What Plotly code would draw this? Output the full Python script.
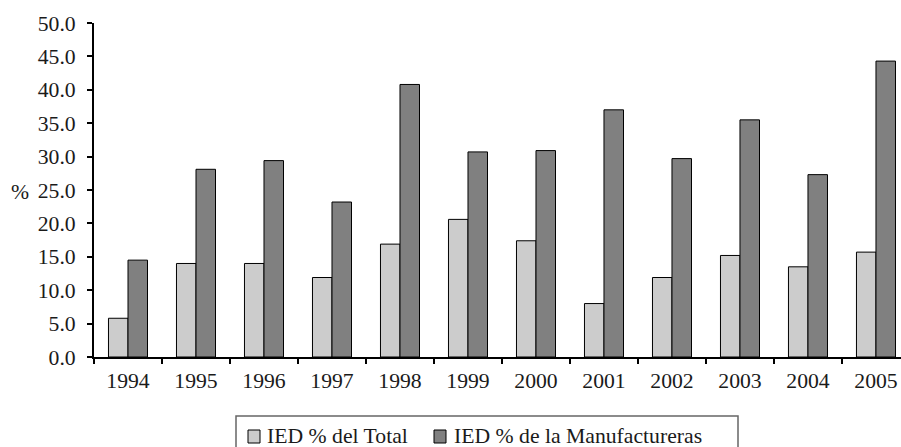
import plotly.graph_objects as go

years = ["1994", "1995", "1996", "1997", "1998", "1999", "2000", "2001", "2002", "2003", "2004", "2005"]
ied_total = [5.8, 14.0, 14.0, 11.9, 16.9, 20.6, 17.4, 8.0, 11.9, 15.2, 13.5, 15.7]
ied_manuf = [14.5, 28.1, 29.4, 23.2, 40.8, 30.7, 30.9, 37.0, 29.7, 35.5, 27.3, 44.3]
series_names = ["IED % del Total", "IED % de la Manufactureras"]
series_colors = ["#cccccc", "#808080"]
y_ticks = [0, 5, 10, 15, 20, 25, 30, 35, 40, 45, 50]

FONT = "Liberation Serif, Times New Roman, serif"
TXT = "#1a1a1a"
FS = 21.7

W, H = 901, 447
L, R, T, B = 94, 0, 23, 90
PW, PH = W - L - R, H - T - B


def px_x(p):
    return (p - L) / PW


def px_y(p):
    return (H - B - p) / PH


fig = go.Figure()
for vals, name, col in zip([ied_total, ied_manuf], series_names, series_colors):
    fig.add_trace(go.Bar(x=years, y=vals, name=name,
                         marker=dict(color=col, line=dict(color="#000000", width=1))))

# legend drawn as a framed box with swatches
shapes = [dict(type="rect", xref="paper", yref="paper",
               x0=px_x(236), x1=px_x(738), y0=px_y(455), y1=px_y(416),
               line=dict(color="#666666", width=1.5), fillcolor="rgba(0,0,0,0)")]
annotations = [dict(text="%", xref="paper", yref="paper", x=px_x(20), y=px_y(192),
                    xanchor="center", yanchor="middle", showarrow=False,
                    font=dict(size=FS, color=TXT))]
legend_icon_x = [248, 434]
legend_text_x = [265, 452]
for ix, tx, name, col in zip(legend_icon_x, legend_text_x, series_names, series_colors):
    shapes.append(dict(type="rect", xref="paper", yref="paper",
                       x0=px_x(ix), x1=px_x(ix + 12), y0=px_y(443), y1=px_y(430),
                       line=dict(color="#000000", width=1), fillcolor=col))
    annotations.append(dict(text=name, xref="paper", yref="paper", x=px_x(tx), y=px_y(436),
                            xanchor="left", yanchor="middle", showarrow=False,
                            font=dict(size=FS, color=TXT)))

fig.update_layout(
    width=W, height=H,
    margin=dict(l=L, r=R, t=T, b=B, autoexpand=False),
    paper_bgcolor="white", plot_bgcolor="white",
    barmode="group", bargap=0.426, bargroupgap=0,
    font=dict(family=FONT, size=FS, color=TXT),
    showlegend=False,
    xaxis=dict(type="category", range=[-0.5, 11.368], showline=True, linecolor="#000000",
               linewidth=2, ticks="outside", tickson="boundaries", ticklen=5,
               tickcolor="#000000", tickwidth=2, showgrid=False, zeroline=False,
               automargin=False, ticklabelstandoff=3,
               tickfont=dict(size=FS, color=TXT)),
    yaxis=dict(range=[0, 50], tickvals=y_ticks, tickformat=".1f", showline=True,
               linecolor="#000000", linewidth=2, ticks="outside", ticklen=5,
               tickcolor="#000000", tickwidth=1.5, showgrid=False, zeroline=False,
               automargin=False, ticklabelstandoff=7,
               tickfont=dict(size=FS, color=TXT)),
    shapes=shapes,
    annotations=annotations,
)

fig.write_html("out.html", config={"displayModeBar": False},
               post_script="document.body.style.margin='0';document.body.style.overflow='hidden';")
